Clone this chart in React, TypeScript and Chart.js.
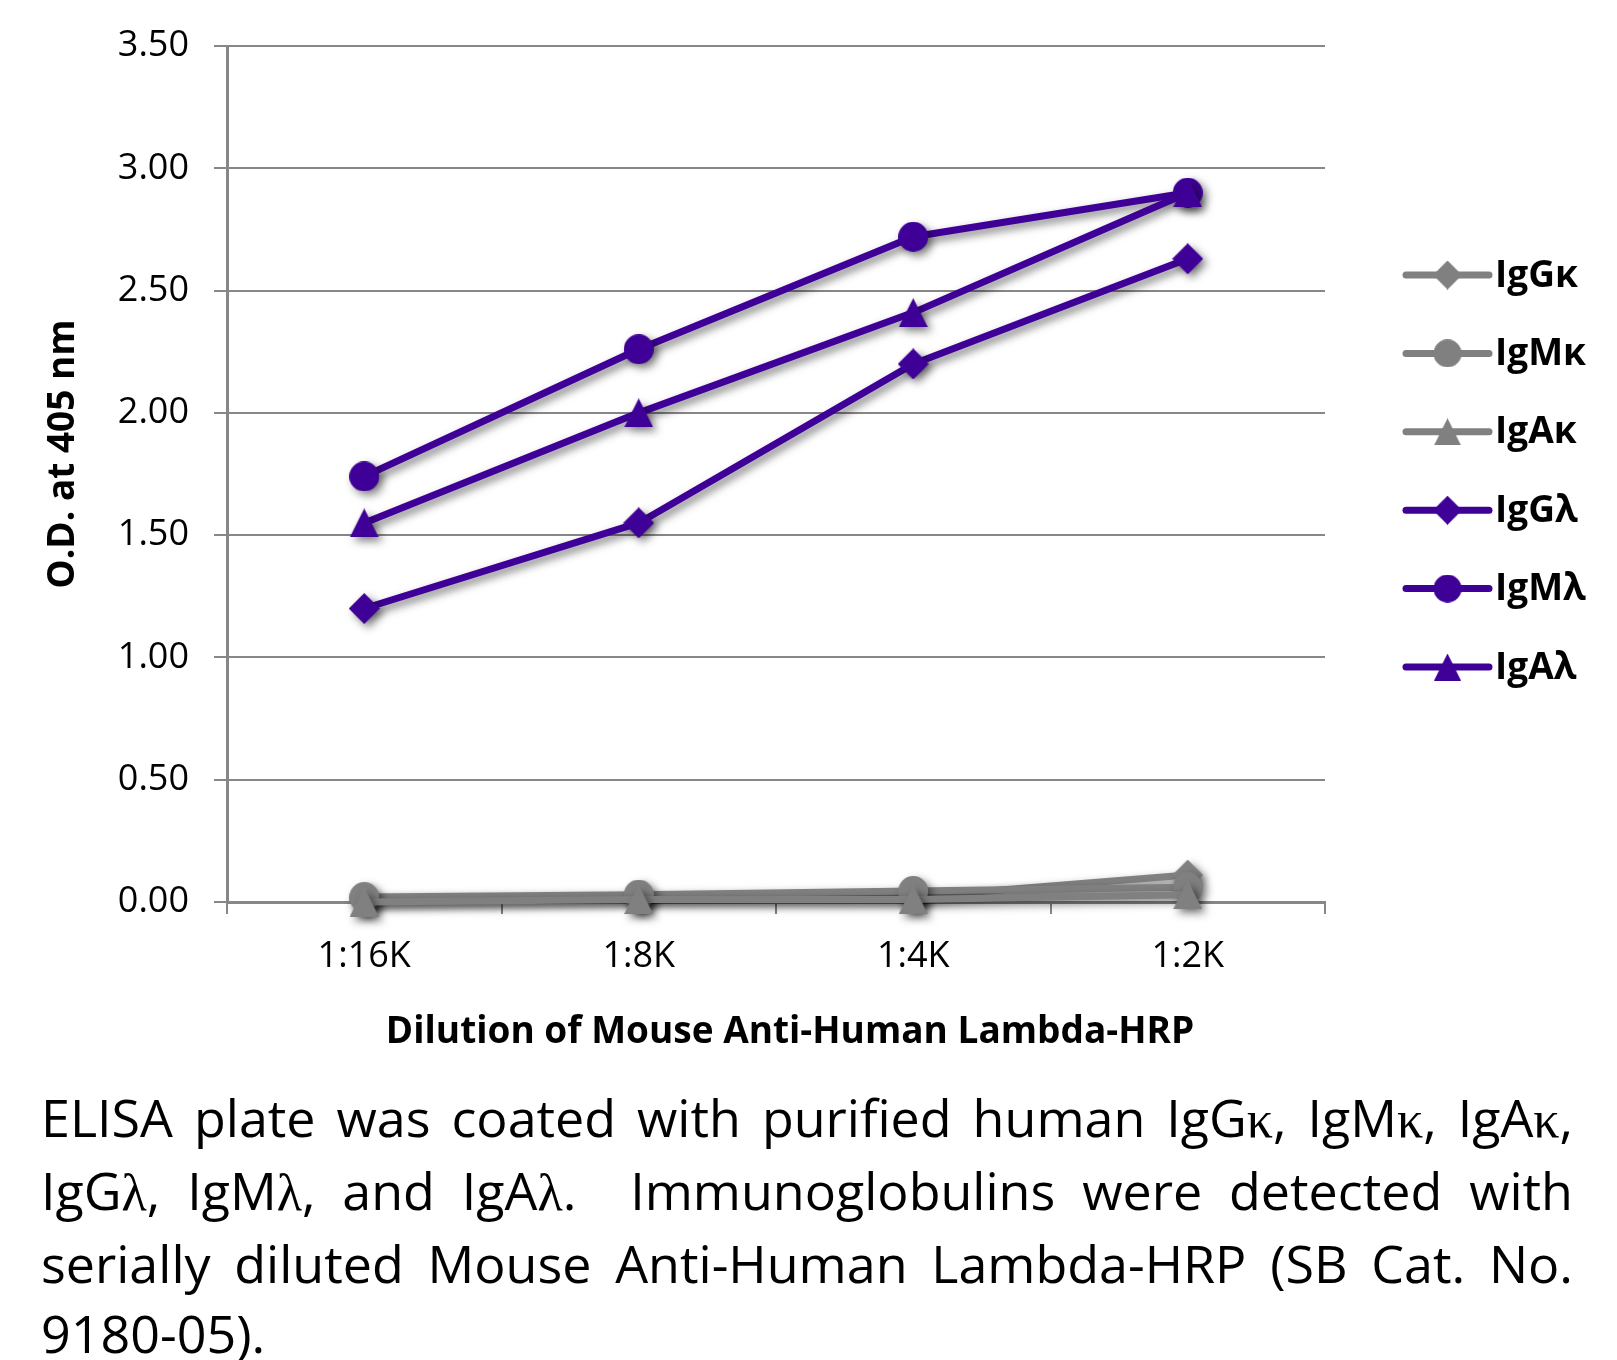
import React, { useEffect, useRef } from 'react';
import { Chart, registerables } from 'chart.js';
Chart.register(...registerables);

const categories = ['1:16K', '1:8K', '1:4K', '1:2K'];
const seriesNames = ['IgGκ', 'IgMκ', 'IgAκ', 'IgGλ', 'IgMλ', 'IgAλ'];
const igGkappa = [0.01, 0.02, 0.02, 0.11];
const igMkappa = [0.02, 0.03, 0.045, 0.06];
const igAkappa = [0.0, 0.01, 0.01, 0.03];
const igGlambda = [1.2, 1.55, 2.2, 2.63];
const igMlambda = [1.74, 2.26, 2.72, 2.9];
const igAlambda = [1.55, 2.0, 2.41, 2.9];
const yMin = 0;
const yMax = 3.5;
const yStep = 0.5;
const xTitle = 'Dilution of Mouse Anti-Human Lambda-HRP';
const yTitle = 'O.D. at 405 nm';

const captionLines = [
  'ELISA plate was coated with purified human IgGκ, IgMκ, IgAκ,',
  'IgGλ, IgMλ, and IgAλ.  Immunoglobulins were detected with',
  'serially diluted Mouse Anti-Human Lambda-HRP (SB Cat. No.',
  '9180-05).',
];

const GRAY = '#808080';
const PURPLE = '#3f0097';
const GRID = '#878787';
const FONT = '"Open Sans", "Noto Sans", sans-serif';

function makeMarker(shape: string, color: string, size: number) {
  const c = document.createElement('canvas');
  c.width = size;
  c.height = size;
  const g = c.getContext('2d')!;
  g.fillStyle = color;
  g.beginPath();
  const h = size / 2;
  if (shape === 'diamond') {
    g.moveTo(h, 0);
    g.lineTo(size, h);
    g.lineTo(h, size);
    g.lineTo(0, h);
  } else if (shape === 'circle') {
    g.arc(h, h, h, 0, Math.PI * 2);
  } else {
    g.moveTo(h, 0);
    g.lineTo(size, size);
    g.lineTo(0, size);
  }
  g.closePath();
  g.fill();
  return c;
}

const shadowPlugin = {
  id: 'excelShadow',
  beforeDatasetsDraw(chart: any) {
    const ctx = chart.ctx;
    ctx.save();
    ctx.shadowColor = 'rgba(0,0,0,0.5)';
    ctx.shadowBlur = 8;
    ctx.shadowOffsetX = 4;
    ctx.shadowOffsetY = 4;
  },
  afterDatasetsDraw(chart: any) {
    chart.ctx.restore();
  },
};

const titlePlugin = {
  id: 'axisTitles',
  afterDraw(chart: any) {
    const ctx = chart.ctx;
    ctx.save();
    ctx.fillStyle = '#000';
    ctx.font = `bold 37px ${FONT}`;
    ctx.textAlign = 'center';
    ctx.textBaseline = 'middle';
    ctx.fillText(xTitle, 782, 1024);
    ctx.translate(55, 446);
    ctx.rotate(-Math.PI / 2);
    ctx.fillText(yTitle, 0, 0);
    ctx.restore();
  },
};

const legendPlugin = {
  id: 'lineLegend',
  afterDraw(chart: any) {
    const ctx = chart.ctx;
    const ds = chart.data.datasets;
    const x0 = 1398;
    const x1 = 1481;
    const top = 267;
    const gap = 78.4;
    ctx.save();
    ds.forEach((d: any, i: number) => {
      const y = top + i * gap;
      ctx.strokeStyle = d.borderColor;
      ctx.lineWidth = 7;
      ctx.lineCap = 'round';
      ctx.beginPath();
      ctx.moveTo(x0, y);
      ctx.lineTo(x1, y);
      ctx.stroke();
      const img = d.pointStyle as HTMLCanvasElement;
      const s = img.width - 2;
      ctx.drawImage(img, (x0 + x1) / 2 - s / 2, y - s / 2, s, s);
      ctx.fillStyle = '#000';
      ctx.font = `bold 37px ${FONT}`;
      ctx.textAlign = 'left';
      ctx.textBaseline = 'middle';
      ctx.fillText(d.label, 1487, y + 1);
    });
    ctx.restore();
  },
};

function Caption() {
  const renderLine = (t: string) =>
    t.split(/([κλ])/).map((p, i) =>
      p === 'κ' || p === 'λ' ? (
        <span key={i} style={{ fontFamily: '"Liberation Serif", serif' }}>{p}</span>
      ) : (
        <span key={i}>{p}</span>
      )
    );
  return (
    <div
      style={{
        marginLeft: 33,
        marginTop: 14,
        width: 1532,
        fontFamily: FONT,
        fontSize: 52,
        lineHeight: '70px',
        color: '#000',
      }}
    >
      {captionLines.map((l, i) => (
        <div
          key={i}
          style={{
            whiteSpace: 'pre',
            textAlign: i < captionLines.length - 1 ? 'justify' : 'left',
            textAlignLast: i < captionLines.length - 1 ? 'justify' : 'left',
          } as any}
        >
          {renderLine(l)}
        </div>
      ))}
    </div>
  );
}

export default function App() {
  const ref = useRef<HTMLCanvasElement | null>(null);
  useEffect(() => {
    if (!ref.current) return;
    const shapes = ['diamond', 'circle', 'triangle'];
    const sizes: Record<string, number> = { diamond: 31, circle: 30, triangle: 29 };
    const values = [igGkappa, igMkappa, igAkappa, igGlambda, igMlambda, igAlambda];
    const datasets = values.map((v, i) => {
      const color = i < 3 ? GRAY : PURPLE;
      const shape = shapes[i % 3];
      return {
        label: seriesNames[i],
        data: v,
        borderColor: color,
        backgroundColor: color,
        borderWidth: 7,
        borderCapStyle: 'round',
        borderJoinStyle: 'round',
        tension: 0,
        pointStyle: makeMarker(shape, color, sizes[shape]),
        pointRadius: 15,
        clip: false,
        order: 5 - i,
      };
    });
    const chart = new Chart(ref.current, {
      type: 'line',
      data: { labels: categories, datasets: datasets as any },
      options: {
        animation: false,
        responsive: true,
        maintainAspectRatio: false,
        layout: { padding: { left: 0, right: 284, top: 38, bottom: 0 } },
        plugins: { legend: { display: false }, tooltip: { enabled: false } },
        scales: {
          x: {
            type: 'category',
            offset: true,
            grid: {
              display: true,
              drawOnChartArea: false,
              drawTicks: true,
              tickLength: 12,
              offset: true,
              color: GRID,
              lineWidth: 2,
            },
            border: { display: true, color: GRID, width: 3 },
            ticks: { color: '#000', font: { family: FONT, size: 36 }, padding: 21 },
            afterFit: (s: any) => {
              s.height = 166;
              s.paddingLeft = 0;
              s.paddingRight = 0;
            },
          },
          y: {
            min: yMin,
            max: yMax,
            grid: { color: GRID, lineWidth: 2, tickLength: 13, drawTicks: true },
            border: { display: true, color: GRID, width: 3 },
            ticks: {
              stepSize: yStep,
              color: '#000',
              font: { family: FONT, size: 36 },
              padding: 25,
              callback: (v: any) => Number(v).toFixed(2),
            },
            afterFit: (s: any) => {
              s.width = 219;
              s.paddingTop = 0;
              s.paddingBottom = 0;
            },
          },
        },
      } as any,
      plugins: [shadowPlugin, legendPlugin, titlePlugin],
    });
    return () => chart.destroy();
  }, []);
  return (
    <div>
      <div style={{ position: 'relative', width: 1601, height: 1060 }}>
        <canvas ref={ref} />
      </div>
      <Caption />
    </div>
  );
}
